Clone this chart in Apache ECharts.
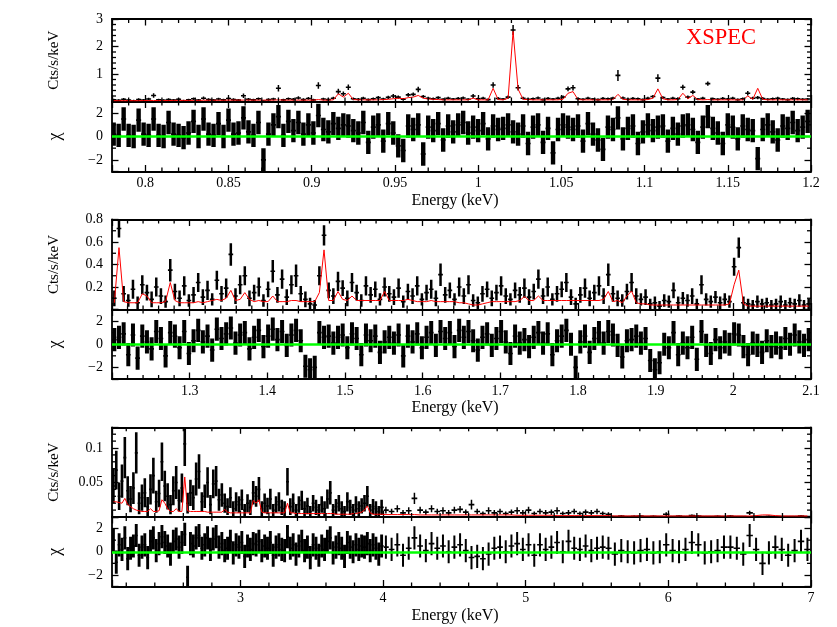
<!DOCTYPE html>
<html><head><meta charset="utf-8">
<script src="https://cdn.jsdelivr.net/npm/echarts@6/dist/echarts.min.js"></script>
<style>html,body{margin:0;padding:0;background:#fff}#c{width:837px;height:627px}</style>
</head><body><div id="c"></div>
<script>
// ---------------- Panel 1 : 0.78 - 1.2 keV ----------------
const energy1 = [
0.781,0.784,0.787,0.790,0.793,0.796,0.799,0.802,0.805,0.808,
0.811,0.814,0.817,0.820,0.823,0.826,0.829,0.832,0.835,0.838,
0.841,0.844,0.847,0.850,0.853,0.856,0.859,0.862,0.865,0.868,
0.871,0.874,0.877,0.880,0.883,0.886,0.889,0.892,0.895,0.898,
0.901,0.904,0.907,0.910,0.913,0.916,0.919,0.922,0.925,0.928,
0.931,0.934,0.937,0.940,0.943,0.946,0.949,0.952,0.955,0.958,
0.961,0.964,0.967,0.970,0.973,0.976,0.979,0.982,0.985,0.988,
0.991,0.994,0.997,1.000,1.003,1.006,1.009,1.012,1.015,1.018,
1.021,1.024,1.027,1.030,1.033,1.036,1.039,1.042,1.045,1.048,
1.051,1.054,1.057,1.060,1.063,1.066,1.069,1.072,1.075,1.078,
1.081,1.084,1.087,1.090,1.093,1.096,1.099,1.102,1.105,1.108,
1.111,1.114,1.117,1.120,1.123,1.126,1.129,1.132,1.135,1.138,
1.141,1.144,1.147,1.150,1.153,1.156,1.159,1.162,1.165,1.168,
1.171,1.174,1.177,1.180,1.183,1.186,1.189,1.192,1.195,1.198];
const counts1 = [
0.06,0.04,0.08,0.05,0.03,0.07,0.05,0.09,0.22,0.06,
0.04,0.07,0.05,0.08,0.03,0.06,0.10,0.05,0.12,0.07,
0.05,0.09,0.06,0.11,0.07,0.05,0.21,0.08,0.06,0.10,
0.02,0.07,0.09,0.48,0.06,0.10,0.08,0.13,0.07,0.11,
0.06,0.58,0.09,0.07,0.12,0.36,0.28,0.52,0.10,0.08,
0.12,0.07,0.10,0.14,0.09,0.15,0.20,0.16,0.08,0.24,
0.26,0.44,0.18,0.12,0.10,0.14,0.08,0.12,0.09,0.11,
0.13,0.08,0.20,0.10,0.12,0.07,0.60,0.11,0.09,0.16,
2.60,0.50,0.12,0.08,0.10,0.13,0.07,0.11,0.09,0.12,
0.16,0.46,0.50,0.10,0.08,0.12,0.09,0.07,0.11,0.10,
0.12,0.95,0.13,0.08,0.11,0.10,0.07,0.12,0.18,0.85,
0.14,0.09,0.12,0.10,0.52,0.16,0.34,0.09,0.12,0.65,
0.10,0.08,0.11,0.09,0.12,0.07,0.10,0.30,0.12,0.14,
0.11,0.08,0.10,0.12,0.09,0.07,0.11,0.10,0.08,0.09];
const error1 = [
0.04,0.04,0.05,0.04,0.03,0.05,0.04,0.05,0.08,0.04,
0.04,0.05,0.04,0.05,0.03,0.04,0.05,0.04,0.06,0.05,
0.04,0.05,0.04,0.05,0.05,0.04,0.08,0.05,0.04,0.05,
0.03,0.05,0.05,0.12,0.04,0.05,0.05,0.06,0.05,0.05,
0.04,0.12,0.05,0.05,0.05,0.10,0.08,0.10,0.05,0.05,
0.05,0.04,0.05,0.06,0.05,0.06,0.07,0.06,0.05,0.07,
0.07,0.10,0.06,0.05,0.05,0.05,0.04,0.05,0.04,0.05,
0.05,0.04,0.07,0.05,0.05,0.04,0.10,0.05,0.04,0.06,
0.18,0.10,0.05,0.04,0.05,0.05,0.04,0.05,0.04,0.05,
0.06,0.09,0.10,0.05,0.04,0.05,0.04,0.04,0.05,0.05,
0.05,0.20,0.05,0.04,0.05,0.05,0.04,0.05,0.06,0.14,
0.05,0.04,0.05,0.05,0.09,0.06,0.08,0.04,0.05,0.08,
0.05,0.04,0.05,0.04,0.05,0.04,0.05,0.08,0.05,0.06,
0.05,0.04,0.05,0.05,0.04,0.04,0.05,0.05,0.04,0.04];
const model1 = [
0.03,0.03,0.03,0.03,0.03,0.03,0.035,0.035,0.035,0.035,
0.035,0.035,0.04,0.04,0.04,0.04,0.04,0.04,0.045,0.045,
0.045,0.045,0.045,0.05,0.05,0.05,0.05,0.05,0.05,0.05,
0.05,0.05,0.05,0.06,0.05,0.05,0.05,0.05,0.05,0.05,
0.05,0.07,0.05,0.05,0.06,0.28,0.16,0.30,0.07,0.06,
0.06,0.06,0.06,0.06,0.07,0.08,0.10,0.12,0.10,0.14,
0.16,0.22,0.12,0.09,0.08,0.07,0.06,0.06,0.06,0.06,
0.06,0.06,0.12,0.06,0.06,0.06,0.48,0.07,0.06,0.12,
2.55,0.45,0.08,0.07,0.06,0.06,0.06,0.06,0.06,0.06,
0.08,0.30,0.36,0.07,0.06,0.06,0.06,0.06,0.06,0.06,
0.07,0.26,0.08,0.06,0.06,0.06,0.06,0.07,0.12,0.46,
0.10,0.06,0.06,0.07,0.30,0.10,0.22,0.07,0.06,0.07,
0.06,0.06,0.06,0.06,0.06,0.06,0.06,0.20,0.08,0.48,
0.08,0.06,0.06,0.06,0.06,0.06,0.06,0.06,0.06,0.06];
const chi1 = [
0.2,0.1,1.5,0.1,0.0,1.4,0.2,0.1,1.5,0.1,
0.0,1.2,0.2,0.1,-0.1,0.3,1.3,0.0,1.5,0.2,
0.1,1.1,0.0,1.4,0.2,0.3,1.6,0.4,0.1,1.2,
-2.0,0.2,1.0,1.7,0.1,1.3,0.5,1.2,0.2,1.0,
0.3,1.8,0.6,0.4,1.1,0.7,1.0,0.9,0.5,0.3,
1.2,-0.5,0.8,1.0,-0.4,1.1,0.3,-0.8,-1.2,0.9,
0.6,1.0,-1.5,0.8,0.5,1.1,-0.3,0.9,0.4,1.0,
1.2,0.3,0.8,0.5,1.1,-0.2,0.9,0.6,0.7,1.0,
0.4,0.2,0.9,-0.6,0.8,1.0,-0.5,0.7,-1.4,0.6,
1.0,0.8,0.6,0.9,-0.4,1.1,0.2,-0.3,-1.1,0.8,
0.6,1.6,-0.2,0.7,0.9,-0.6,0.4,1.0,0.5,0.8,
0.9,-0.4,0.7,0.2,0.9,1.0,0.6,-0.5,0.8,1.7,
0.7,0.3,-0.6,1.0,0.8,-0.2,0.9,0.6,0.5,-1.9,
0.6,1.0,0.4,-0.3,0.9,0.7,1.2,0.5,0.8,1.3];

// ---------------- Panel 2 : 1.2 - 2.1 keV ----------------
const energy2 = [
1.203,1.209,1.215,1.221,1.227,1.233,1.239,1.245,1.251,1.257,
1.263,1.269,1.275,1.281,1.287,1.293,1.299,1.305,1.311,1.317,
1.323,1.329,1.335,1.341,1.347,1.353,1.359,1.365,1.371,1.377,
1.383,1.389,1.395,1.401,1.407,1.413,1.419,1.425,1.431,1.437,
1.443,1.449,1.455,1.461,1.467,1.473,1.479,1.485,1.491,1.497,
1.503,1.509,1.515,1.521,1.527,1.533,1.539,1.545,1.551,1.557,
1.563,1.569,1.575,1.581,1.587,1.593,1.599,1.605,1.611,1.617,
1.623,1.629,1.635,1.641,1.647,1.653,1.659,1.665,1.671,1.677,
1.683,1.689,1.695,1.701,1.707,1.713,1.719,1.725,1.731,1.737,
1.743,1.749,1.755,1.761,1.767,1.773,1.779,1.785,1.791,1.797,
1.803,1.809,1.815,1.821,1.827,1.833,1.839,1.845,1.851,1.857,
1.863,1.869,1.875,1.881,1.887,1.893,1.899,1.905,1.911,1.917,
1.923,1.929,1.935,1.941,1.947,1.953,1.959,1.965,1.971,1.977,
1.983,1.989,1.995,2.001,2.007,2.013,2.019,2.025,2.031,2.037,
2.043,2.049,2.055,2.061,2.067,2.073,2.079,2.085,2.091,2.097];
const counts2 = [
0.10,0.72,0.14,0.08,0.18,0.06,0.22,0.15,0.09,0.20,
0.12,0.07,0.35,0.16,0.10,0.21,0.08,0.13,0.24,0.11,
0.17,0.09,0.26,0.14,0.19,0.49,0.12,0.22,0.30,0.10,
0.15,0.20,0.08,0.18,0.34,0.13,0.27,0.11,0.22,0.30,
0.14,0.09,0.05,0.04,0.30,0.66,0.17,0.12,0.25,0.19,
0.10,0.24,0.15,0.08,0.21,0.13,0.18,0.09,0.20,0.14,
0.11,0.19,0.07,0.16,0.12,0.21,0.09,0.15,0.18,0.10,
0.31,0.13,0.17,0.09,0.20,0.12,0.22,0.08,0.06,0.14,
0.18,0.10,0.15,0.21,0.12,0.09,0.17,0.13,0.19,0.11,
0.16,0.27,0.12,0.20,0.09,0.14,0.18,0.24,0.11,0.05,
0.13,0.19,0.10,0.15,0.21,0.12,0.31,0.14,0.10,0.08,
0.16,0.24,0.12,0.09,0.11,0.05,0.06,0.03,0.08,0.07,
0.17,0.06,0.10,0.08,0.12,0.05,0.22,0.09,0.07,0.11,
0.06,0.09,0.07,0.38,0.55,0.06,0.05,0.04,0.07,0.05,
0.06,0.04,0.05,0.07,0.04,0.06,0.05,0.08,0.04,0.05];
const error2 = [
0.07,0.08,0.07,0.055,0.085,0.055,0.085,0.07,0.07,0.085,
0.07,0.055,0.10,0.07,0.07,0.085,0.055,0.07,0.085,0.07,
0.085,0.055,0.085,0.07,0.085,0.10,0.07,0.085,0.085,0.07,
0.07,0.085,0.055,0.07,0.10,0.07,0.085,0.07,0.085,0.10,
0.07,0.07,0.055,0.045,0.085,0.09,0.07,0.07,0.085,0.07,
0.07,0.085,0.07,0.055,0.085,0.07,0.07,0.055,0.085,0.07,
0.07,0.085,0.055,0.07,0.07,0.085,0.055,0.07,0.085,0.07,
0.10,0.07,0.07,0.055,0.085,0.07,0.085,0.055,0.055,0.07,
0.07,0.07,0.07,0.085,0.07,0.055,0.07,0.07,0.085,0.07,
0.07,0.085,0.07,0.085,0.055,0.07,0.07,0.085,0.07,0.055,
0.07,0.085,0.07,0.07,0.085,0.07,0.10,0.07,0.07,0.055,
0.07,0.085,0.07,0.055,0.07,0.045,0.055,0.045,0.055,0.055,
0.07,0.055,0.055,0.055,0.07,0.045,0.085,0.055,0.055,0.055,
0.055,0.055,0.055,0.08,0.09,0.055,0.045,0.045,0.055,0.045,
0.045,0.045,0.045,0.055,0.045,0.045,0.045,0.055,0.045,0.045];
const model2 = [
0.06,0.55,0.07,0.06,0.06,0.06,0.14,0.12,0.06,0.06,
0.06,0.07,0.24,0.08,0.06,0.06,0.06,0.06,0.07,0.06,
0.07,0.08,0.09,0.08,0.10,0.17,0.08,0.09,0.15,0.09,
0.07,0.08,0.07,0.07,0.12,0.07,0.07,0.07,0.08,0.08,
0.07,0.07,0.07,0.07,0.15,0.53,0.08,0.08,0.16,0.09,
0.08,0.12,0.08,0.08,0.08,0.08,0.08,0.08,0.16,0.08,
0.08,0.08,0.08,0.09,0.08,0.07,0.07,0.07,0.08,0.07,
0.07,0.07,0.07,0.07,0.06,0.06,0.05,0.04,0.04,0.05,
0.06,0.07,0.07,0.07,0.07,0.07,0.07,0.08,0.115,0.08,
0.08,0.12,0.08,0.08,0.08,0.08,0.08,0.08,0.08,0.08,
0.08,0.08,0.08,0.08,0.08,0.09,0.16,0.07,0.08,0.06,
0.12,0.165,0.06,0.05,0.05,0.04,0.04,0.04,0.04,0.04,
0.04,0.04,0.04,0.04,0.04,0.04,0.04,0.04,0.04,0.04,
0.04,0.04,0.05,0.22,0.35,0.05,0.03,0.03,0.03,0.03,
0.03,0.03,0.03,0.03,0.03,0.03,0.03,0.03,0.03,0.03];
const chi2 = [
0.4,0.6,0.9,-0.9,0.8,-1.2,0.7,0.2,-0.4,1.1,
0.5,-1.0,1.0,0.7,-0.3,1.1,-0.8,0.3,1.2,0.2,
0.7,-0.5,1.3,0.5,0.9,1.4,0.1,0.8,1.0,-0.4,
0.6,1.2,-0.2,0.7,1.3,0.4,1.1,-0.1,0.8,1.2,
0.3,-1.9,-2.2,-2.0,1.0,0.6,0.7,0.1,0.6,0.8,
-0.3,0.9,0.5,-0.9,0.8,0.3,0.7,-0.7,0.2,0.6,
0.1,0.8,-1.0,0.7,0.2,0.9,-0.3,0.6,1.0,-0.1,
1.1,0.5,1.0,-0.2,1.2,0.6,1.1,0.3,-0.5,0.6,
0.9,-0.1,0.5,1.1,0.2,-0.8,0.7,0.1,0.4,-0.2,
0.6,1.0,0.1,0.9,-0.9,0.3,0.7,1.2,0.0,-2.0,
0.2,0.7,-0.7,0.5,1.0,0.1,1.1,0.8,-0.1,-1.1,
0.3,0.4,0.7,0.1,0.5,-1.4,-2.2,-1.6,0.0,-0.3,
1.0,-0.9,0.1,-0.3,0.6,-1.3,1.1,-0.1,-0.8,0.4,
-0.3,0.2,0.0,0.9,0.8,-0.2,-0.9,0.1,-0.1,-0.7,
0.3,-0.2,0.1,-0.3,0.5,0.0,0.8,0.2,-0.1,0.4];

// ---------------- Panel 3 : 2.1 - 7 keV ----------------
const energy3 = [
2.11,2.13,2.15,2.17,2.19,2.21,2.23,2.25,2.27,2.29,
2.31,2.33,2.35,2.37,2.39,2.41,2.43,2.45,2.47,2.49,
2.51,2.53,2.55,2.57,2.59,2.61,2.63,2.65,2.67,2.69,
2.71,2.73,2.75,2.77,2.79,2.81,2.83,2.85,2.87,2.89,
2.91,2.93,2.95,2.97,2.99,3.01,3.03,3.05,3.07,3.09,
3.11,3.13,3.15,3.17,3.19,3.21,3.23,3.25,3.27,3.29,
3.31,3.33,3.35,3.37,3.39,3.41,3.43,3.45,3.47,3.49,
3.51,3.53,3.55,3.57,3.59,3.61,3.63,3.65,3.67,3.69,
3.71,3.73,3.75,3.77,3.79,3.81,3.83,3.85,3.87,3.89,
3.91,3.93,3.95,3.97,3.99,
4.02,4.06,4.10,4.14,4.18,4.22,4.26,4.30,4.34,4.38,
4.42,4.46,4.50,4.54,4.58,4.62,4.66,4.70,4.74,4.78,
4.82,4.86,4.90,4.94,4.98,5.02,5.06,5.10,5.14,5.18,
5.22,5.26,5.30,5.34,5.38,5.42,5.46,5.50,5.54,5.58,
5.625,5.670,5.715,5.760,5.805,5.850,5.895,5.940,5.985,6.030,
6.075,6.120,6.165,6.210,6.255,6.300,6.345,6.390,6.435,6.480,
6.525,6.570,6.615,6.660,6.705,6.750,6.795,6.840,6.885,6.930,
6.975];
const counts3 = [
0.045,0.068,0.030,0.052,0.086,0.038,0.026,0.042,0.093,0.020,
0.028,0.035,0.015,0.040,0.060,0.022,0.034,0.080,0.045,0.030,
0.018,0.038,0.050,0.024,0.042,0.106,0.020,0.035,0.028,0.055,
0.066,0.022,0.030,0.050,0.018,0.048,0.052,0.025,0.032,0.020,
0.015,0.028,0.012,0.022,0.018,0.025,0.010,0.020,0.014,0.035,
0.030,0.040,0.012,0.020,0.016,0.026,0.010,0.018,0.022,0.014,
0.012,0.051,0.015,0.020,0.010,0.018,0.024,0.012,0.016,0.008,
0.020,0.014,0.010,0.018,0.012,0.026,0.035,0.010,0.015,0.020,
0.012,0.008,0.022,0.014,0.010,0.018,0.012,0.016,0.020,0.030,
0.010,0.015,0.012,0.008,0.014,
0.010,0.008,0.012,0.006,0.009,0.027,0.010,0.007,0.012,0.008,
0.009,0.006,0.010,0.011,0.007,0.018,0.008,0.005,0.009,0.006,
0.008,0.005,0.007,0.009,0.006,0.010,0.005,0.008,0.006,0.007,
0.009,0.005,0.006,0.008,0.005,0.007,0.006,0.008,0.005,0.004,
0.0005,0.0015,0.0005,0.001,0.0015,0.0005,0.001,0.0005,0.004,0.0005,
0.0015,0.0005,0.002,0.0015,0.0005,0.0005,0.001,0.0005,0.0015,0.0005,
0.0005,0.006,0.0005,0.0005,0.001,0.0005,0.0005,0.0005,0.0005,0.0015,
0.0005];
const error3 = [
0.025,0.028,0.020,0.024,0.030,0.021,0.019,0.023,0.030,0.016,
0.019,0.021,0.014,0.022,0.026,0.016,0.020,0.028,0.022,0.019,
0.014,0.021,0.024,0.016,0.021,0.032,0.015,0.019,0.018,0.024,
0.025,0.014,0.017,0.022,0.014,0.021,0.022,0.016,0.017,0.014,
0.012,0.015,0.011,0.014,0.012,0.015,0.009,0.013,0.011,0.017,
0.015,0.018,0.011,0.014,0.012,0.015,0.009,0.012,0.014,0.011,
0.011,0.020,0.012,0.014,0.009,0.012,0.014,0.011,0.012,0.008,
0.012,0.011,0.009,0.012,0.011,0.014,0.017,0.009,0.011,0.012,
0.011,0.008,0.014,0.011,0.009,0.012,0.011,0.011,0.012,0.015,
0.009,0.011,0.011,0.008,0.011,
0.005,0.004,0.005,0.004,0.005,0.008,0.005,0.004,0.005,0.004,
0.005,0.004,0.005,0.005,0.004,0.007,0.004,0.003,0.005,0.004,
0.004,0.003,0.004,0.005,0.004,0.005,0.003,0.004,0.004,0.004,
0.005,0.003,0.004,0.004,0.003,0.004,0.004,0.004,0.003,0.003,
0.0005,0.001,0.0005,0.001,0.001,0.0005,0.001,0.0005,0.003,0.0005,
0.001,0.0005,0.0015,0.001,0.0005,0.0005,0.001,0.0005,0.001,0.0005,
0.0005,0.003,0.0005,0.0005,0.001,0.0005,0.0005,0.0005,0.0005,0.001,
0.0005];
const model3 = [
0.022,0.022,0.021,0.020,0.027,0.018,0.015,0.012,0.010,0.009,
0.008,0.008,0.008,0.012,0.008,0.008,0.009,0.025,0.020,0.012,
0.008,0.008,0.012,0.008,0.008,0.058,0.009,0.008,0.008,0.008,
0.008,0.008,0.008,0.007,0.007,0.007,0.007,0.007,0.007,0.011,
0.007,0.006,0.006,0.006,0.006,0.006,0.006,0.006,0.006,0.024,
0.020,0.025,0.007,0.006,0.006,0.006,0.006,0.006,0.006,0.006,
0.006,0.020,0.006,0.006,0.005,0.005,0.005,0.005,0.005,0.005,
0.005,0.005,0.005,0.005,0.005,0.005,0.005,0.005,0.004,0.004,
0.004,0.004,0.004,0.004,0.005,0.005,0.006,0.007,0.010,0.016,
0.006,0.004,0.004,0.004,0.004,
0.0035,0.0035,0.0035,0.0035,0.0035,0.0035,0.003,0.003,0.003,0.003,
0.003,0.003,0.003,0.003,0.003,0.003,0.003,0.003,0.003,0.003,
0.003,0.003,0.003,0.0025,0.0025,0.0025,0.0025,0.0025,0.0025,0.0025,
0.002,0.002,0.002,0.002,0.002,0.002,0.002,0.002,0.002,0.002,
0.0015,0.0015,0.0015,0.0015,0.0015,0.0015,0.0015,0.0015,0.0015,0.0015,
0.0015,0.0015,0.0015,0.0015,0.0015,0.0015,0.0015,0.0015,0.0015,0.0015,
0.0015,0.0015,0.002,0.003,0.003,0.002,0.0015,0.0015,0.0015,0.0015,
0.0015];
const chi3 = [
1.0,-0.9,0.6,0.2,1.2,-0.6,0.3,0.5,1.4,-0.3,
0.4,0.6,-0.5,0.9,1.2,0.1,0.7,1.3,0.8,0.5,
-0.2,0.9,1.1,0.4,0.8,1.5,-2.2,0.7,0.5,1.2,
1.4,0.3,0.6,1.2,0.2,1.1,1.3,0.4,0.7,0.1,
0.3,0.9,-0.1,0.6,0.4,0.8,-0.4,0.5,0.2,0.7,
0.6,0.9,0.1,0.5,0.3,0.8,-0.3,0.4,0.6,0.2,
0.1,1.3,0.3,0.6,-0.2,0.5,0.9,0.1,0.4,-0.5,
0.6,0.3,-0.3,0.5,0.2,0.9,1.2,-0.1,0.4,0.7,
0.3,-0.4,0.8,0.4,0.0,0.6,0.2,0.5,0.4,0.7,
0.1,0.6,0.3,-0.2,0.5,
0.4,0.2,0.6,-0.3,0.3,1.2,0.5,0.1,0.7,0.3,
0.5,0.0,0.4,0.6,0.1,-0.5,-0.4,-0.6,-0.2,0.3,
0.4,0.0,0.5,0.7,0.2,0.6,-0.3,0.6,0.2,0.4,
0.8,0.0,0.9,0.3,0.2,0.5,0.1,0.3,0.4,0.3,
-0.2,0.1,0.0,-0.1,0.1,0.2,-0.1,0.0,0.6,0.1,
0.0,0.2,0.8,0.6,-0.1,0.0,0.1,0.4,0.4,0.3,
-0.2,1.4,0.2,-1.0,-0.1,0.4,0.2,-0.3,0.1,0.9,
0.2];

// ---------------- Axes: ranges and tick labels ----------------
const xRange1 = [0.78, 1.2], xLabels1 = ['0.8','0.85','0.9','0.95','1','1.05','1.1','1.15','1.2'];
const xRange2 = [1.2, 2.1],  xLabels2 = ['1.3','1.4','1.5','1.6','1.7','1.8','1.9','2','2.1'];
const xRange3 = [2.1, 7],    xLabels3 = ['3','4','5','6','7'];
const yRange1 = [0, 3],      yLabels1 = ['1','2','3'];
const yRange2 = [0, 0.8],    yLabels2 = ['0.2','0.4','0.6','0.8'];
const yRange3 = [0, 0.13],   yLabels3 = ['0.05','0.1'];
const chiRange = [-3, 3],    chiLabels = ['\u22122','0','2'];
const chiError = 1;   // residuals are in units of sigma

const FONT = 'Liberation Serif';
const LEFT = 112, WIDTH = 699;
const gridBoxes = [
  {top: 19,    height: 82.5},
  {top: 101.5, height: 70},
  {top: 219.5, height: 90},
  {top: 309.5, height: 69.5},
  {top: 427.3, height: 89.7},
  {top: 517,   height: 69.5}
];

const panels = [
  {E: energy1, C: counts1, S: error1, M: model1, X: chi1, xr: xRange1, xMaj: 0.05, xMin: 0.01, xLab: xLabels1,
   yr: yRange1, yMaj: 1, yMin: 0.2, yLab: yLabels1,
   dataW: () => 1.5, resW: () => 4.4},
  {E: energy2, C: counts2, S: error2, M: model2, X: chi2, xr: xRange2, xMaj: 0.1, xMin: 0.02, xLab: xLabels2,
   yr: yRange2, yMaj: 0.2, yMin: 0.1, yLab: yLabels2,
   dataW: () => 2.5, resW: () => 4.0},
  {E: energy3, C: counts3, S: error3, M: model3, X: chi3, xr: xRange3, xMaj: 1, xMin: 0.2, xLab: xLabels3,
   yr: yRange3, yMaj: 0.05, yMin: 0.01, yLab: yLabels3,
   dataW: (w) => (w < 0.03 ? 2.6 : 1.5), resW: (w) => (w < 0.03 ? 2.9 : 2.0)}
];

function labelFn(labels) {
  const nums = labels.map(s => parseFloat(s.replace('\u2212', '-')));
  return function (v) {
    for (let k = 0; k < nums.length; k++) if (Math.abs(v - nums[k]) < 1e-7) return labels[k];
    return '';
  };
}

// minor tick positions: multiples of the minor step inside the range, skipping major ticks
function minorTicks(range, step, major) {
  const out = [];
  const a = Math.ceil(range[0] / step - 1e-9), b = Math.floor(range[1] / step + 1e-9);
  for (let n = a; n <= b; n++) {
    const v = n * step, r = v / major;
    if (Math.abs(r - Math.round(r)) < 1e-6) continue;
    if (v <= range[0] + 1e-9 || v >= range[1] - 1e-9) continue;
    out.push(v);
  }
  return out;
}

function mkAxis(g, pos, range, step, labels, margin) {
  return {
    gridIndex: g, type: 'value', position: pos, min: range[0], max: range[1],
    minInterval: step, maxInterval: step, splitNumber: 5,
    splitLine: {show: false}, splitArea: {show: false},
    axisLine: {show: true, onZero: false, lineStyle: {color: '#000', width: 1.8}},
    axisTick: {show: true, inside: true, length: 6.5, lineStyle: {color: '#000', width: 1.3}},
    axisLabel: labels ? {show: true, margin: margin, color: '#000', fontFamily: FONT, fontSize: 14,
      showMinLabel: true, showMaxLabel: true, hideOverlap: false, formatter: labelFn(labels)} : {show: false},
    axisPointer: {show: false}
  };
}

function halfWidths(E) {
  return E.map((e, i) => {
    const l = i > 0 ? (e - E[i - 1]) / 2 : (E[i + 1] - e) / 2;
    const r = i < E.length - 1 ? (E[i + 1] - e) / 2 : (e - E[i - 1]) / 2;
    return [l, r];
  });
}

function barRender(vWidthFn) {
  return function (params, api) {
    const x = api.value(0), y = api.value(1), e = api.value(2), hl = api.value(3), hr = api.value(4);
    const top = api.coord([x, y + e]), bot = api.coord([x, y - e]);
    const l = api.coord([x - hl, y]), r = api.coord([x + hr, y]);
    return {
      type: 'group',
      children: [
        {type: 'line', shape: {x1: top[0], y1: top[1], x2: bot[0], y2: bot[1]},
         style: {stroke: '#000', lineWidth: vWidthFn(hl + hr)}},
        {type: 'line', shape: {x1: l[0], y1: l[1], x2: r[0], y2: r[1]},
         style: {stroke: '#000', lineWidth: 1.6}}
      ]
    };
  };
}

const grids = [], xAxes = [], yAxes = [], series = [], gridAxes = [];
gridBoxes.forEach((b, g) => {
  grids.push({left: LEFT, width: WIDTH, top: b.top, height: b.height, containLabel: false, outerBoundsMode: 'none'});
  const p = panels[Math.floor(g / 2)];
  const isRes = g % 2 === 1;
  xAxes.push(mkAxis(g, 'bottom', p.xr, p.xMaj, isRes ? p.xLab : null, 5));
  xAxes.push(mkAxis(g, 'top', p.xr, p.xMaj, null));
  const yr = isRes ? chiRange : p.yr;
  const yMaj = isRes ? 2 : p.yMaj, yMin = isRes ? 1 : p.yMin;
  yAxes.push(mkAxis(g, 'left', yr, yMaj, isRes ? chiLabels : p.yLab, 9));
  yAxes.push(mkAxis(g, 'right', yr, yMaj, null));
  gridAxes.push({xr: p.xr, yr: yr, xm: minorTicks(p.xr, p.xMin, p.xMaj), ym: minorTicks(yr, yMin, yMaj)});
});

panels.forEach((p, k) => {
  const gs = 2 * k, gr = 2 * k + 1;
  const hw = halfWidths(p.E);
  series.push({
    type: 'custom', name: 'data' + k, xAxisIndex: 2 * gs, yAxisIndex: 2 * gs, clip: true, z: 2,
    renderItem: barRender(p.dataW), encode: {x: 0, y: 1},
    data: p.E.map((e, i) => [e, p.C[i], p.S[i], hw[i][0], hw[i][1]])
  });
  series.push({
    type: 'line', name: 'model' + k, xAxisIndex: 2 * gs, yAxisIndex: 2 * gs, z: 3,
    showSymbol: false, symbol: 'none', clip: true,
    lineStyle: {color: '#ff0000', width: 1}, itemStyle: {color: '#ff0000'},
    data: p.E.map((e, i) => [e, p.M[i]])
  });
  series.push({
    type: 'custom', name: 'resid' + k, xAxisIndex: 2 * gr, yAxisIndex: 2 * gr, clip: true, z: 2,
    renderItem: barRender(p.resW), encode: {x: 0, y: 1},
    data: p.E.map((e, i) => [e, p.X[i], chiError, hw[i][0], hw[i][1]]),
    markLine: {
      silent: true, symbol: ['none', 'none'], animation: false, z: 5,
      label: {show: false},
      lineStyle: {color: '#00ff00', width: 2.5, type: 'solid'},
      data: [{yAxis: 0}]
    }
  });
});

const graphics = [];
const cx = 455;
[0, 1, 2].forEach(k => {
  const s = gridBoxes[2 * k], r = gridBoxes[2 * k + 1];
  graphics.push({type: 'text', x: 54, y: s.top + s.height / 2, rotation: Math.PI / 2, silent: true,
    style: {text: 'Cts/s/keV', fontFamily: FONT, fontSize: 15, fill: '#000', align: 'center', verticalAlign: 'middle'}});
  graphics.push({type: 'text', x: 55, y: r.top + r.height / 2, rotation: Math.PI / 2, silent: true,
    style: {text: '\u03c7', fontFamily: FONT, fontSize: 18, fill: '#000', align: 'center', verticalAlign: 'middle'}});
  graphics.push({type: 'text', x: cx, y: r.top + r.height + 29, silent: true,
    style: {text: 'Energy (keV)', fontFamily: FONT, fontSize: 16, fill: '#000', align: 'center', verticalAlign: 'middle'}});
});
graphics.push({type: 'text', x: 721, y: 38, silent: true,
  style: {text: 'XSPEC', fontFamily: FONT, fontSize: 22.5, fill: '#ff0000', align: 'center', verticalAlign: 'middle'}});

const chart = echarts.init(document.getElementById('c'), null, {renderer: 'canvas'});
chart.setOption({
  animation: false,
  backgroundColor: '#ffffff',
  grid: grids, xAxis: xAxes, yAxis: yAxes, series: series, graphic: graphics
});

// minor ticks on all four sides, positioned through each grid's own axis scales
const tickEls = [];
const TL = 4;
gridAxes.forEach((ga, g) => {
  const finder = {xAxisIndex: 2 * g, yAxisIndex: 2 * g};
  const p0 = chart.convertToPixel(finder, [ga.xr[0], ga.yr[0]]);
  const p1 = chart.convertToPixel(finder, [ga.xr[1], ga.yr[1]]);
  if (!p0 || !p1) return;
  ga.xm.forEach(v => {
    const px = chart.convertToPixel(finder, [v, ga.yr[0]])[0];
    tickEls.push({type: 'line', silent: true, z: 20, shape: {x1: px, y1: p1[1], x2: px, y2: p1[1] + TL},
      style: {stroke: '#000', lineWidth: 1.3}});
    tickEls.push({type: 'line', silent: true, z: 20, shape: {x1: px, y1: p0[1], x2: px, y2: p0[1] - TL},
      style: {stroke: '#000', lineWidth: 1.3}});
  });
  ga.ym.forEach(v => {
    const py = chart.convertToPixel(finder, [ga.xr[0], v])[1];
    tickEls.push({type: 'line', silent: true, z: 20, shape: {x1: p0[0], y1: py, x2: p0[0] + TL, y2: py},
      style: {stroke: '#000', lineWidth: 1.3}});
    tickEls.push({type: 'line', silent: true, z: 20, shape: {x1: p1[0], y1: py, x2: p1[0] - TL, y2: py},
      style: {stroke: '#000', lineWidth: 1.3}});
  });
});
chart.setOption({graphic: graphics.concat(tickEls)});
</script>
</body></html>
